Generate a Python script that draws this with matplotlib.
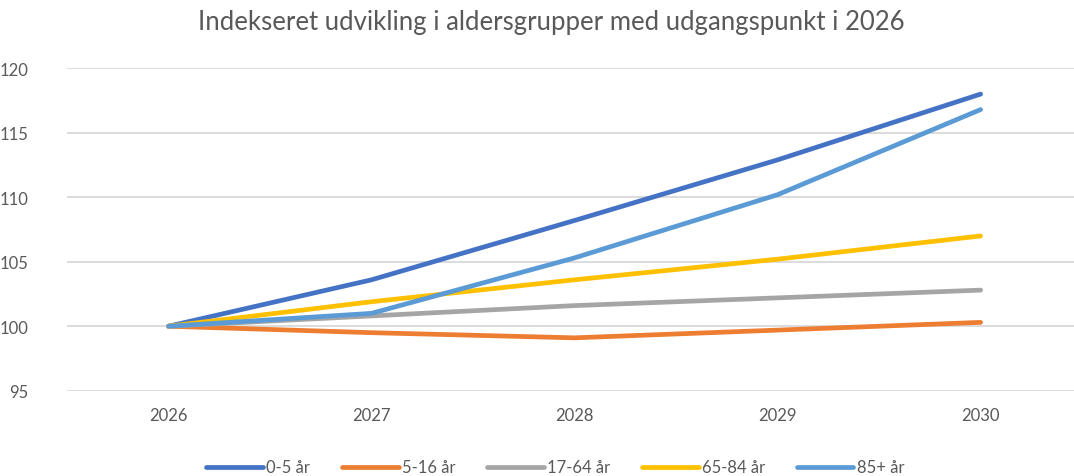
import matplotlib.pyplot as plt

# data
years = ['2026', '2027', '2028', '2029', '2030']
labels = ['0-5 år', '5-16 år', '17-64 år', '65-84 år', '85+ år']
v_0_5 = [100, 103.6, 108.2, 112.9, 118.0]
v_5_16 = [100, 99.5, 99.1, 99.7, 100.3]
v_17_64 = [100, 100.8, 101.6, 102.2, 102.8]
v_65_84 = [100, 101.9, 103.6, 105.2, 107.0]
v_85 = [100, 101.0, 105.3, 110.2, 116.8]
colors = ['#4472C4', '#ED7D31', '#A5A5A5', '#FFC000', '#5B9BD5']

plt.rcParams['font.family'] = ['Lato', 'DejaVu Sans']

fig = plt.figure(figsize=(10.74, 4.77), dpi=100)
ax = fig.add_axes([0.0624, 0.1788, 0.9376, 0.6759])

x = range(len(years))
for vals, lab, col in zip([v_0_5, v_5_16, v_17_64, v_65_84, v_85], labels, colors):
    ax.plot(x, vals, color=col, linewidth=3.4, label=lab, solid_capstyle='round')

ax.set_xlim(-0.5, 4.46)
ax.set_ylim(95, 120)
ax.set_yticks(range(95, 121, 5))
ax.set_xticks(list(x))
ax.set_xticklabels(years)
ax.grid(axis='y', color='#D9D9D9', linewidth=1.3)
ax.set_axisbelow(True)
for s in ax.spines.values():
    s.set_visible(False)
ax.tick_params(length=0, labelsize=12, labelcolor='#595959')
ax.tick_params(axis='y', pad=28)
ax.tick_params(axis='x', pad=12)

fig.text(0.513, 0.952, 'Indekseret udvikling i aldersgrupper med udgangspunkt i 2026',
         ha='center', va='center', fontsize=18.5, color='#595959')

fig.legend(loc='center', bbox_to_anchor=(0.517, 0.018), ncol=5, frameon=False,
           fontsize=12, labelcolor='#595959', handlelength=3.4, handletextpad=0.2,
           columnspacing=1.9)

fig.savefig('out.png', dpi=100)
